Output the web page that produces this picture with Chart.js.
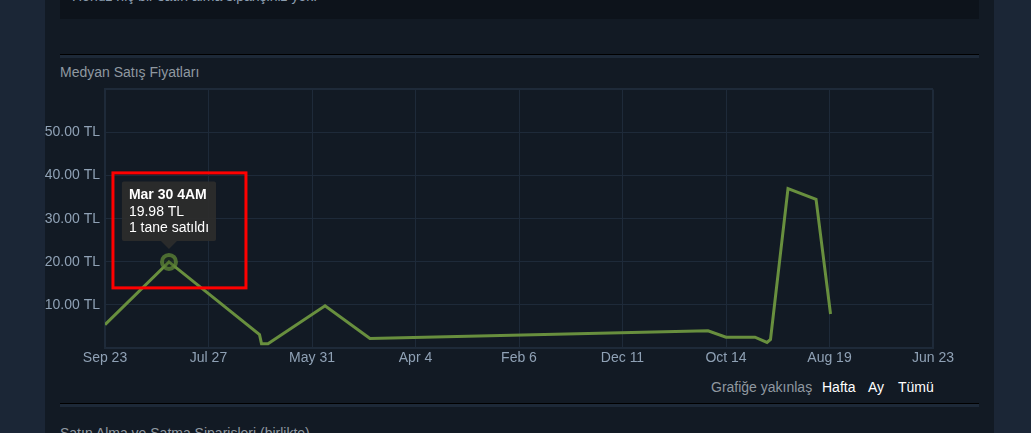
<!DOCTYPE html>
<html>
<head>
<meta charset="utf-8">
<script src="https://cdn.jsdelivr.net/npm/chart.js@4"></script>
<style>
  html,body{margin:0;padding:0;width:1031px;height:433px;overflow:hidden;background:#121a24;font-family:"Liberation Sans",Arial,sans-serif;}
  .side{position:absolute;top:0;height:433px;background:#1b2636;}
  .topbox{position:absolute;left:60px;top:0;width:919px;height:19px;background:#0d131b;overflow:hidden;}
  .topbox span{position:absolute;left:12px;top:-12px;font-size:14px;color:#8b9db0;}
  .sep{position:absolute;left:60px;width:919px;height:3px;border-top:1px solid #000;background:#1d2938;}
  .title{position:absolute;left:60px;top:64px;font-size:14px;color:#8f98a0;}
  .zoom{position:absolute;top:379px;font-size:14px;}
  .bottomtitle{position:absolute;left:60px;top:425px;font-size:14px;color:#8f98a0;}
  #wrap{position:absolute;left:45px;top:76px;width:940px;height:296px;}
</style>
</head>
<body>
<div class="side" style="left:0;width:45px"></div>
<div class="side" style="left:994px;width:37px"></div>
<div class="topbox"><span>Henüz hiç bir satın alma siparişiniz yok.</span></div>
<div class="sep" style="top:54px"></div>
<div class="title">Medyan Satış Fiyatları</div>
<div id="wrap"><canvas id="c"></canvas></div>
<div class="zoom" style="left:711px;color:#8f98a0">Grafiğe yakınlaş</div>
<div class="zoom" style="left:822px;color:#ffffff">Hafta</div>
<div class="zoom" style="left:868px;color:#ffffff">Ay</div>
<div class="zoom" style="left:898px;color:#ffffff">Tümü</div>
<div class="sep" style="top:403px"></div>
<div class="bottomtitle">Satın Alma ve Satma Siparişleri (birlikte)</div>
<script>
// Tick labels along the time axis (positions 0..8)
const tickLabels = ["Sep 23","Jul 27","May 31","Apr 4","Feb 6","Dec 11","Oct 14","Aug 19","Jun 23"];
// Sale points: position on the time axis (in tick units) and median price (TL)
const salePositions = [0, 0.618, 1.493, 1.512, 1.575, 2.126, 2.560, 5.826, 6.0, 6.280, 6.396, 6.430, 6.599, 6.870, 7.010];
const salePrices    = [5.4, 19.98, 3.1, 1.0, 1.0, 9.8, 2.2, 4.0, 2.5, 2.5, 1.3, 2.0, 37.0, 34.5, 7.9];
// Tooltip content for the highlighted point
const highlightIndex = 1;
const tooltipTitle = "Mar 30 4AM";
const tooltipLines = ["19.98 TL", "1 tane satıldı"];

const points = salePositions.map((x, i) => ({x: x, y: salePrices[i]}));
const FONT = '"Liberation Sans", Arial, sans-serif';
const gridCol = '#1e2a39';

const redBox = {
  id: 'redBox',
  afterDraw(chart) {
    const el = chart.getDatasetMeta(0).data[highlightIndex];
    const ctx = chart.ctx;
    ctx.save();
    ctx.strokeStyle = '#ff0000';
    ctx.lineWidth = 3;
    ctx.strokeRect(el.x - 56, el.y - 89, 133, 115);
    ctx.restore();
  }
};

const chart = new Chart(document.getElementById('c'), {
  type: 'line',
  data: {
    datasets: [{
      data: points,
      borderColor: '#688f3e',
      borderWidth: 3,
      pointRadius: 0,
      pointHoverRadius: 7,
      pointHoverBorderWidth: 4,
      pointHoverBorderColor: 'rgba(95,135,55,0.75)',
      pointHoverBackgroundColor: 'rgba(40,60,30,0.35)',
      tension: 0,
      fill: false
    }]
  },
  options: {
    responsive: true,
    maintainAspectRatio: false,
    animation: false,
    events: [],
    layout: {padding: {top: 4, right: 52, bottom: 0, left: 0}},
    plugins: {
      legend: {display: false},
      tooltip: {
        enabled: true,
        yAlign: 'bottom',
        xAlign: 'center',
        backgroundColor: 'rgba(44,44,44,0.95)',
        titleColor: '#ffffff',
        bodyColor: '#ffffff',
        titleFont: {family: FONT, size: 14, weight: 'bold', lineHeight: 1.15},
        bodyFont: {family: FONT, size: 14, lineHeight: 1.15},
        titleMarginBottom: 0,
        bodySpacing: 0,
        padding: {left: 7, right: 7, top: 6, bottom: 5},
        caretSize: 8,
        caretPadding: 13,
        cornerRadius: 2,
        displayColors: false,
        callbacks: {
          title: () => tooltipTitle,
          label: () => tooltipLines
        }
      }
    },
    scales: {
      x: {
        type: 'linear',
        min: 0,
        max: tickLabels.length - 1,
        afterFit(s) { s.height = 24; },
        ticks: {
          stepSize: 1,
          autoSkip: false,
          maxRotation: 0,
          padding: 2,
          color: '#8fa1b5',
          font: {family: FONT, size: 14},
          callback: (v) => tickLabels[Math.round(v)] || ''
        },
        grid: {
          color: gridCol,
          drawTicks: false,
          lineWidth: (c) => (c.tick && (c.tick.value === 0 || c.tick.value === 8)) ? 2 : 1
        },
        border: {color: gridCol, width: 2}
      },
      y: {
        min: 0,
        max: 60,
        afterFit(s) { s.width = 60; },
        ticks: {
          stepSize: 10,
          padding: 5,
          color: '#8fa1b5',
          font: {family: FONT, size: 14},
          callback: (v) => (v === 0 || v === 60) ? '' : v.toFixed(2) + ' TL'
        },
        grid: {
          color: gridCol,
          drawTicks: false,
          lineWidth: (c) => (c.tick && (c.tick.value === 0 || c.tick.value === 60)) ? 2 : 1
        },
        border: {color: gridCol, width: 2}
      }
    }
  },
  plugins: [redBox]
});

const el = chart.getDatasetMeta(0).data[highlightIndex];
chart.setActiveElements([{datasetIndex: 0, index: highlightIndex}]);
chart.tooltip.setActiveElements([{datasetIndex: 0, index: highlightIndex}], {x: el.x, y: el.y});
chart.update();
</script>
</body>
</html>
